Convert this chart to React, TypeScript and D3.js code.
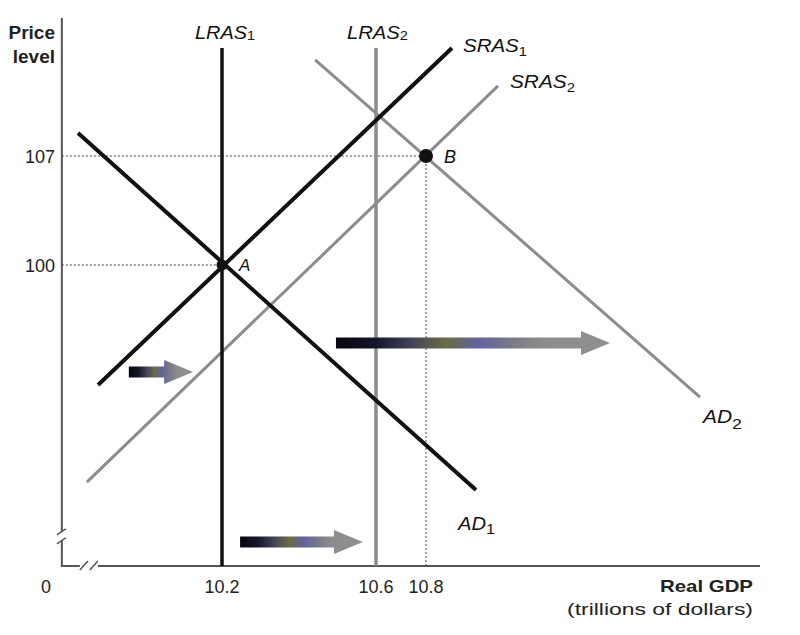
import React, { useEffect } from "react";
import * as d3 from "d3";

// ---- data (GDP in trillions, price level index) ----
const xTicks = [10.2, 10.6, 10.8];
const yTicks = [100, 107];
const xDomain = [9.784, 12.136];
const yDomain = [80.67, 115.86];
const lrasTop = 113.94;

const lras1 = [{ g: 10.2, p: lrasTop }, { g: 10.2, p: yDomain[0] }];
const lras2 = [{ g: 10.6, p: lrasTop }, { g: 10.6, p: yDomain[0] }];
const sras1 = [{ g: 9.878, p: 92.29 }, { g: 10.904, p: 113.94 }];
const sras2 = [{ g: 9.849, p: 86.06 }, { g: 11.088, p: 111.5 }];
const ad1 = [{ g: 9.826, p: 108.48 }, { g: 11.0, p: 85.55 }];
const ad2 = [{ g: 10.442, p: 113.17 }, { g: 11.896, p: 91.52 }];

const pointA = { g: 10.2, p: 100 };
const pointB = { g: 10.8, p: 107 };

const arrows = [
  { g0: 9.958, g1: 10.125, p: 93.13 },
  { g0: 10.247, g1: 10.566, p: 82.21 },
  { g0: 10.496, g1: 11.536, p: 94.99 },
];

const W = 800;
const H = 635;

export default function App() {
  useEffect(() => {
    document.body.style.margin = "0";
  }, []);

  const x = d3.scaleLinear().domain(xTicks).range([222, 376, 426]);
  const y = d3.scaleLinear().domain(yTicks).range([265, 156]);

  const line = d3
    .line<{ g: number; p: number }>()
    .x((d) => x(d.g))
    .y((d) => y(d.p));

  const x0 = x(xDomain[0]);
  const x1 = x(xDomain[1]);
  const yb = y(yDomain[0]);
  const yt = y(yDomain[1]);

  const black = "#111";
  const gray = "#8c8c8c";
  const font = "'Liberation Sans', Arial, Helvetica, sans-serif";

  const arrowPath = (a: { g0: number; g1: number; p: number }) => {
    const xs = x(a.g0);
    const xe = x(a.g1);
    const yc = y(a.p);
    const bh = 5.5;
    const hh = 12;
    const hl = 29;
    const xh = xe - hl;
    return `M${xs},${yc - bh}L${xh},${yc - bh}L${xh},${yc - hh}L${xe},${yc}L${xh},${yc + hh}L${xh},${yc + bh}L${xs},${yc + bh}Z`;
  };

  const label = (
    main: string,
    sub: string,
    px: number,
    py: number,
    len: number,
    subDy = 2,
    size = 18,
    subScale = 0.72
  ) => (
    <text
      x={px}
      y={py}
      fontFamily={font}
      fontStyle="italic"
      fontSize={size}
      fill="#111"
      textLength={len}
      lengthAdjust="spacingAndGlyphs"
    >
      {main}
      <tspan fontSize={size * subScale} dy={subDy} fontStyle="normal">
        {sub}
      </tspan>
    </text>
  );

  return (
    <svg width={W} height={H} style={{ display: "block", background: "#fff" }}>
      <defs>
        <linearGradient id="arrowGrad" x1="0" y1="0" x2="1" y2="0">
          <stop offset="0" stopColor="#07070f" />
          <stop offset="0.14" stopColor="#15152a" />
          <stop offset="0.28" stopColor="#45455a" />
          <stop offset="0.4" stopColor="#6b6b45" />
          <stop offset="0.52" stopColor="#6262a0" />
          <stop offset="0.64" stopColor="#7a7a88" />
          <stop offset="0.75" stopColor="#8c8c8c" />
          <stop offset="1" stopColor="#909090" />
        </linearGradient>
      </defs>

      {/* axes with breaks */}
      <g stroke="#555" strokeWidth={2} fill="none">
        <path d={`M${x0},${yt}L${x0},${yb - 34}`} />
        <path d={`M${x0 - 5},${yb - 31}L${x0 + 4},${yb - 37}`} strokeWidth={1.5} />
        <path d={`M${x0 - 5},${yb - 22}L${x0 + 4},${yb - 28}`} strokeWidth={1.5} />
        <path d={`M${x0},${yb - 25}L${x0},${yb}L${x0 + 18},${yb}`} />
        <path d={`M${x0 + 18},${yb + 4}L${x0 + 26},${yb - 5}`} strokeWidth={1.5} />
        <path d={`M${x0 + 28},${yb + 4}L${x0 + 36},${yb - 5}`} strokeWidth={1.5} />
        <path d={`M${x0 + 36},${yb}L${x1},${yb}`} />
      </g>

      {/* dotted guides */}
      <g stroke="#444" strokeWidth={1} strokeDasharray="2,2" fill="none">
        <path d={`M${x0},${y(107)}L${x(pointB.g)},${y(107)}`} />
        <path d={`M${x0},${y(100)}L${x(pointA.g)},${y(100)}`} />
        <path d={`M${x(pointB.g)},${y(107)}L${x(pointB.g)},${yb}`} />
      </g>

      {/* curves */}
      <path d={line(ad2)!} stroke={gray} strokeWidth={3} fill="none" />
      <path d={line(sras2)!} stroke={gray} strokeWidth={3} fill="none" />
      <path d={line(lras2)!} stroke={gray} strokeWidth={3.5} fill="none" />
      <path d={line(lras1)!} stroke={black} strokeWidth={3.5} fill="none" />
      <path d={line(sras1)!} stroke={black} strokeWidth={4} fill="none" />
      <path d={line(ad1)!} stroke={black} strokeWidth={4} fill="none" />

      {/* arrows */}
      {arrows.map((a, i) => (
        <path key={i} d={arrowPath(a)} fill="url(#arrowGrad)" />
      ))}

      {/* points */}
      <circle cx={x(pointA.g)} cy={y(pointA.p)} r={5.5} fill={black} />
      <circle cx={x(pointB.g)} cy={y(pointB.p)} r={7} fill={black} />
      <text x={x(pointA.g) + 17} y={y(pointA.p) + 6} fontFamily={font} fontStyle="italic" fontSize={17} fill="#111">
        A
      </text>
      <text x={x(pointB.g) + 18} y={y(pointB.p) + 7} fontFamily={font} fontStyle="italic" fontSize={18} fill="#111">
        B
      </text>

      {/* curve labels */}
      {label("LRAS", "1", 195, 39, 60, 1)}
      {label("LRAS", "2", 347, 39, 61, 1)}
      {label("SRAS", "1", 463, 52, 64, 4)}
      {label("SRAS", "2", 510, 88, 65, 4)}
      {label("AD", "1", 458, 530, 37, 4, 18, 0.8)}
      {label("AD", "2", 703, 423, 39, 6, 18, 0.85)}

      {/* axis titles */}
      <text x={55} y={39} fontFamily={font} fontWeight="bold" fontSize={19} textAnchor="end" fill="#222">
        Price
      </text>
      <text x={55} y={63} fontFamily={font} fontWeight="bold" fontSize={19} textAnchor="end" fill="#222">
        level
      </text>
      <text x={660} y={592} fontFamily={font} fontWeight="bold" fontSize={17} fill="#222" textLength={93} lengthAdjust="spacingAndGlyphs">
        Real GDP
      </text>
      <text x={567} y={615} fontFamily={font} fontSize={17} fill="#222" textLength={186} lengthAdjust="spacingAndGlyphs">
        (trillions of dollars)
      </text>

      {/* tick labels */}
      {yTicks.map((t) => (
        <text key={t} x={55} y={y(t) + 7} fontFamily={font} fontSize={18} textAnchor="end" fill="#222">
          {t}
        </text>
      ))}
      {xTicks.map((t) => (
        <text key={t} x={x(t)} y={593} fontFamily={font} fontSize={18} textAnchor="middle" fill="#222">
          {t}
        </text>
      ))}
      <text x={46} y={593} fontFamily={font} fontSize={18} textAnchor="middle" fill="#222">
        0
      </text>
    </svg>
  );
}
